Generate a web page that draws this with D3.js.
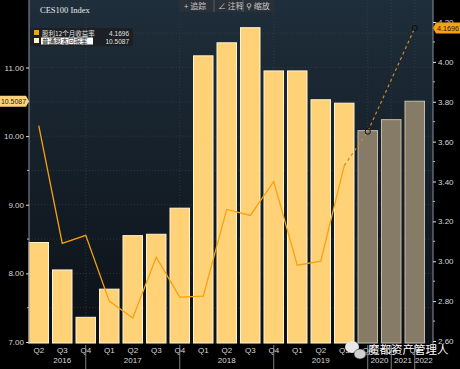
<!DOCTYPE html>
<html>
<head>
<meta charset="utf-8">
<script src="https://cdn.jsdelivr.net/npm/d3@7"></script>
<style>
  html, body { margin: 0; padding: 0; background: #000; }
  svg { display: block; }
  text { font-family: "Liberation Sans", "DejaVu Sans", sans-serif; }
  .cjk { font-family: "Noto Sans CJK SC", sans-serif; }
</style>
</head>
<body>
<div id="chart"></div>
<script>
// quarters / years along the bottom
const quarters = ['Q2', 'Q3', 'Q4', 'Q1', 'Q2', 'Q3', 'Q4', 'Q1', 'Q2', 'Q3', 'Q4', 'Q1', 'Q2', 'Q3', 'Q4', 'Q4', 'Q4'];
const years = ['2016', '2017', '2018', '2019', '2020', '2021', '2022'];
// index of the band where each year ends (separator tick)
const yearEnds = [2, 6, 10, 14, 15, 16];

// 普通股本回报率 (bars, left axis); last three are estimates
const roe = [8.45, 8.05, 7.36, 7.77, 8.55, 8.57, 8.95, 11.17, 11.36, 11.58, 10.95, 10.95, 10.53, 10.48, 10.08, 10.24, 10.5087];
const roeEstimate = [false, false, false, false, false, false, false, false, false, false, false, false, false, false, true, true, true];

// 股利12个月收益率 (line, right axis)
const divYield = [3.68, 3.09, 3.13, 2.80, 2.715, 3.02, 2.82, 2.825, 3.26, 3.23, 3.40, 2.98, 3.0, 3.48];
const divForecast = [3.48, 3.65, 3.91, 4.1696];
const forecastMarkers = [false, true, false, true];

const leftTicks = [7, 8, 9, 10, 11];
const rightTicks = [2.6, 2.8, 3.0, 3.2, 3.4, 3.6, 3.8, 4.0, 4.2];

const width = 460, height = 369;
const plot = {left: 29, right: 433, top: 0, bottom: 344};

const svg = d3.select('#chart').append('svg')
    .attr('width', width)
    .attr('height', height);

const defs = svg.append('defs');
const grad = defs.append('linearGradient')
    .attr('id', 'bg')
    .attr('x1', 0).attr('y1', 0).attr('x2', 0).attr('y2', 1);
grad.append('stop').attr('offset', '0%').attr('stop-color', '#1f2e3b');
grad.append('stop').attr('offset', '100%').attr('stop-color', '#0b1016');

svg.append('rect')
    .attr('width', width).attr('height', height)
    .attr('fill', '#000');

svg.append('rect')
    .attr('x', plot.left).attr('y', plot.top)
    .attr('width', plot.right - plot.left)
    .attr('height', plot.bottom - plot.top)
    .attr('fill', 'url(#bg)');

const x = d3.scaleBand()
    .domain(d3.range(quarters.length))
    .range([29, 424.5])
    .paddingInner(0.17)
    .paddingOuter(0);

const yL = d3.scaleLinear().domain([7, 11]).range([342, 67.5]);
const yR = d3.scaleLinear().domain([2.6, 4.2]).range([341, 22]);

const cx = i => x(i) + x.bandwidth() / 2;

// dotted grid
svg.append('g').selectAll('line')
    .data(d3.range(7, 11.6, 0.5))
    .enter().append('line')
    .attr('x1', plot.left).attr('x2', plot.right)
    .attr('y1', d => yL(d)).attr('y2', d => yL(d))
    .attr('stroke', '#3a4753')
    .attr('stroke-width', 0.6)
    .attr('stroke-dasharray', '1,2');

svg.append('g').selectAll('line')
    .data(yearEnds)
    .enter().append('line')
    .attr('x1', d => cx(d)).attr('x2', d => cx(d))
    .attr('y1', plot.top).attr('y2', plot.bottom)
    .attr('stroke', '#3a4753')
    .attr('stroke-width', 0.6)
    .attr('stroke-dasharray', '1,2');

// bars
svg.append('g').selectAll('rect')
    .data(roe)
    .enter().append('rect')
    .attr('x', (d, i) => x(i))
    .attr('y', d => yL(d))
    .attr('width', x.bandwidth())
    .attr('height', d => 343 - yL(d))
    .attr('fill', (d, i) => roeEstimate[i] ? '#857b67' : '#ffd277')
    .attr('stroke', (d, i) => roeEstimate[i] ? '#c4bcaa' : '#fff3d6')
    .attr('stroke-width', 1);

// dividend yield line
const line = d3.line()
    .x(d => d.x)
    .y(d => yR(d.v));

const solidPts = divYield.map((v, i) => ({x: cx(i), v}));
const fcPts = divForecast.map((v, i) => ({x: cx(13 + i), v}));

svg.append('path')
    .datum(solidPts)
    .attr('fill', 'none')
    .attr('stroke', '#f7a10e')
    .attr('stroke-width', 1.3)
    .attr('d', line);

svg.append('path')
    .datum(fcPts)
    .attr('fill', 'none')
    .attr('stroke', '#c98a22')
    .attr('stroke-width', 1.2)
    .attr('stroke-dasharray', '3,3')
    .attr('d', line);

svg.append('g').selectAll('circle')
    .data(fcPts.filter((d, i) => forecastMarkers[i]))
    .enter().append('circle')
    .attr('cx', d => d.x)
    .attr('cy', d => yR(d.v))
    .attr('r', 2.6)
    .attr('fill', 'none')
    .attr('stroke', '#0d0d0d')
    .attr('stroke-width', 1);

// left axis
const axisL = d3.axisLeft(yL)
    .tickValues(leftTicks)
    .tickFormat(d3.format('.2f'))
    .tickSize(3)
    .tickPadding(2);
const gL = svg.append('g')
    .attr('transform', `translate(${plot.left},0)`)
    .call(axisL);
gL.select('.domain').attr('stroke', '#8a9099').attr('d', `M0,0V${plot.bottom}`);
gL.selectAll('.tick line').attr('stroke', '#e0e0e0');
gL.selectAll('text').attr('fill', '#d8d8d8').style('font-size', '8px');
gL.append('g').selectAll('line')
    .data([7.5, 8.5, 9.5, 10.5])
    .enter().append('line')
    .attr('x1', -2).attr('x2', 0)
    .attr('y1', d => yL(d)).attr('y2', d => yL(d))
    .attr('stroke', '#bbb');

// right axis
const axisR = d3.axisRight(yR)
    .tickValues(rightTicks)
    .tickFormat(d3.format('.2f'))
    .tickSize(3)
    .tickPadding(2);
const gR = svg.append('g')
    .attr('transform', `translate(${plot.right},0)`)
    .call(axisR);
gR.select('.domain').attr('stroke', '#8a9099').attr('d', `M0,0V${plot.bottom}`);
gR.selectAll('.tick line').attr('stroke', '#e0e0e0');
gR.selectAll('text').attr('fill', '#d8d8d8').style('font-size', '8px');
gR.append('g').selectAll('line')
    .data(d3.range(2.7, 4.2, 0.2))
    .enter().append('line')
    .attr('x1', 0).attr('x2', 2)
    .attr('y1', d => yR(d)).attr('y2', d => yR(d))
    .attr('stroke', '#bbb');

// bottom labels
const gx = svg.append('g');
gx.selectAll('.q')
    .data(quarters)
    .enter().append('text')
    .attr('x', (d, i) => cx(i))
    .attr('y', 353)
    .attr('text-anchor', 'middle')
    .attr('fill', '#d8d8d8')
    .style('font-size', '8px')
    .text(d => d);

gx.selectAll('.sep')
    .data(yearEnds)
    .enter().append('line')
    .attr('x1', d => cx(d)).attr('x2', d => cx(d))
    .attr('y1', 345).attr('y2', 369)
    .attr('stroke', '#9aa0a8')
    .attr('stroke-width', 0.8);

const bounds = [plot.left].concat(yearEnds.map(cx)).concat([plot.right]);
gx.selectAll('.yr')
    .data(years)
    .enter().append('text')
    .attr('x', (d, i) => i === 0 ? cx(1) : (bounds[i] + bounds[i + 1]) / 2)
    .attr('y', 363)
    .attr('text-anchor', 'middle')
    .attr('fill', '#d8d8d8')
    .style('font-size', '8px')
    .text(d => d);

// title
svg.append('text')
    .attr('x', 40).attr('y', 13)
    .attr('fill', '#e8e8e8')
    .style('font-size', '8.5px')
    .style('font-family', '"Liberation Serif", serif')
    .text('CES100 Index');

// toolbar
const tb = svg.append('g');
tb.append('rect')
    .attr('x', 180).attr('y', -3)
    .attr('width', 94).attr('height', 15)
    .attr('rx', 2)
    .attr('fill', '#2a3038');
tb.selectAll('text')
    .data([{t: '+ 追踪', x: 184}, {t: '∠ 注释', x: 218}, {t: '⚲ 缩放', x: 246}])
    .enter().append('text')
    .attr('class', 'cjk')
    .attr('x', d => d.x).attr('y', 9)
    .attr('fill', '#c8c8c8')
    .style('font-size', '8px')
    .text(d => d.t);
tb.selectAll('line')
    .data([214, 243])
    .enter().append('line')
    .attr('x1', d => d).attr('x2', d => d)
    .attr('y1', 0).attr('y2', 12)
    .attr('stroke', '#555d66');

// legend
const lg = svg.append('g');
lg.append('rect')
    .attr('x', 30).attr('y', 28)
    .attr('width', 103).attr('height', 18)
    .attr('rx', 2)
    .attr('fill', '#1c1f24');
lg.append('rect')
    .attr('x', 34).attr('y', 30)
    .attr('width', 5).attr('height', 5)
    .attr('fill', '#f7a10e');
lg.append('rect')
    .attr('x', 34).attr('y', 38)
    .attr('width', 5).attr('height', 5)
    .attr('fill', '#fff3d6');
lg.append('text')
    .attr('class', 'cjk')
    .attr('x', 42).attr('y', 36)
    .attr('fill', '#e0e0e0')
    .style('font-size', '6.5px')
    .text('股利12个月收益率');
lg.append('rect')
    .attr('x', 41).attr('y', 37.5)
    .attr('width', 52).attr('height', 7)
    .attr('fill', '#ffffff');
lg.append('text')
    .attr('class', 'cjk')
    .attr('x', 42).attr('y', 44)
    .attr('fill', '#1a1a1a')
    .style('font-size', '6.5px')
    .text('普通股本回报率');
lg.selectAll('.v')
    .data([{t: divForecast[divForecast.length - 1].toFixed(4), y: 36}, {t: roe[roe.length - 1].toFixed(4), y: 44}])
    .enter().append('text')
    .attr('x', 129).attr('y', d => d.y)
    .attr('text-anchor', 'end')
    .attr('fill', '#e0e0e0')
    .style('font-size', '6.5px')
    .text(d => d.t);

// value tags on the axes
const lastRoe = roe[roe.length - 1];
svg.append('path')
    .attr('d', `M0,${yL(lastRoe) - 5.5}H26L29,${yL(lastRoe)}L26,${yL(lastRoe) + 5.5}H0Z`)
    .attr('fill', '#ffd277');
svg.append('text')
    .attr('x', 1).attr('y', yL(lastRoe) + 3)
    .attr('fill', '#1a1a1a')
    .attr('textLength', 25)
    .attr('lengthAdjust', 'spacingAndGlyphs')
    .style('font-size', '8px')
    .text(lastRoe.toFixed(4));

const lastDiv = divForecast[divForecast.length - 1];
svg.append('path')
    .attr('d', `M433,${yR(lastDiv)}L436,${yR(lastDiv) - 5.5}H460V${yR(lastDiv) + 5.5}H436Z`)
    .attr('fill', '#f7a10e');
svg.append('text')
    .attr('x', 437).attr('y', yR(lastDiv) + 3)
    .attr('fill', '#1a1a1a')
    .attr('textLength', 22)
    .attr('lengthAdjust', 'spacingAndGlyphs')
    .style('font-size', '8px')
    .text(lastDiv.toFixed(4));

// watermark
const wm = svg.append('g');
wm.append('ellipse')
    .attr('cx', 352).attr('cy', 347).attr('rx', 7).attr('ry', 6)
    .attr('fill', '#e8e8e8');
wm.append('ellipse')
    .attr('cx', 360).attr('cy', 354).attr('rx', 6).attr('ry', 5)
    .attr('fill', '#d0d0d0')
    .attr('stroke', '#333').attr('stroke-width', 0.6);
wm.append('text')
    .attr('class', 'cjk')
    .attr('x', 368).attr('y', 354)
    .attr('fill', '#ffffff')
    .style('font-size', '11.5px')
    .text('魔都资产管理人');
</script>
</body>
</html>
